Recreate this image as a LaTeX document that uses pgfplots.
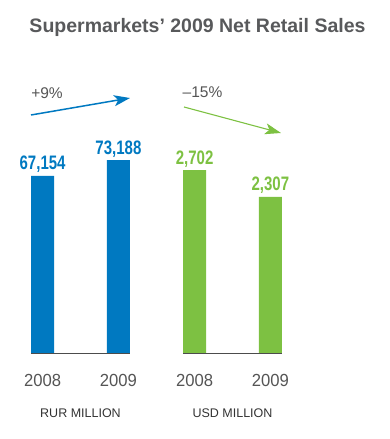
\documentclass[border=0pt]{standalone}
\usepackage{pgfplots}
\pgfplotsset{compat=1.18}
\usetikzlibrary{arrows.meta}
\usepackage{fontspec}
\setmainfont{Liberation Sans}
\newfontfamily\condbold[FakeStretch=0.77]{Liberation Sans Bold}
\newfontfamily\condreg[FakeStretch=0.95]{Liberation Sans}
\definecolor{rurblue}{HTML}{0079C1}
\definecolor{usdgreen}{HTML}{7DC142}
\definecolor{titlegray}{HTML}{58595B}
\definecolor{labgray}{HTML}{555555}
\definecolor{capgray}{HTML}{333333}
\pgfplotsset{
  salesaxis/.style={
    scale only axis, width=99pt, height=200pt,
    anchor=south west,
    xmin=-0.153, xmax=1.153, ymin=0,
    axis x line*=bottom, axis y line=none,
    x axis line style={draw=black!70, line width=0.8pt, -},
    xtick={0,1}, xticklabels={2008,2009},
    major tick length=0pt,
    xticklabel style={anchor=base, yshift=-33pt, font=\fontsize{17.5}{20}\condreg, text=labgray},
    ybar, bar width=23pt,
    clip=false,
    scaled y ticks=false,
    nodes near coords,
    /pgf/number format/.cd, fixed, precision=0, 1000 sep={,}, assume math mode=true,
    /pgfplots/.cd,
    every node near coord/.append style={anchor=base, yshift=6pt, font=\fontsize{19.5}{22}\condbold},
    xlabel style={at={(axis description cs:0.5,0)}, anchor=base, yshift=-64pt, font=\fontsize{12.5}{14}\selectfont, text=capgray},
  }
}
\begin{document}
\begin{tikzpicture}
\path[use as bounding box] (0,0) rectangle (389pt,439pt);
\begin{axis}[salesaxis, at={(31pt,86pt)}, ymax=75860, xlabel={RUR MILLION},
  every node near coord/.append style={text=rurblue}]
\addplot[fill=rurblue, draw=none] coordinates {(0,67154) (1,73188)};
\end{axis}
\begin{axis}[salesaxis, at={(183pt,86pt)}, ymax=2956, xlabel={USD MILLION},
  every node near coord/.append style={text=usdgreen}]
\addplot[fill=usdgreen, draw=none] coordinates {(0,2702) (1,2307)};
\end{axis}
\node[anchor=base, font=\fontsize{19.5}{22}\bfseries, text=titlegray] at (197.5pt,406pt) {Supermarkets’ 2009 Net Retail Sales};
\node[anchor=base, font=\fontsize{15.5}{18}\selectfont, text=labgray] at (47pt,340pt) {+9\%};
\node[anchor=base, font=\fontsize{15.5}{18}\selectfont, text=labgray] at (202.5pt,341pt) {–15\%};
\draw[rurblue, line width=1.5pt, -{Stealth[length=16pt,width=11pt,inset=4pt]}] (31pt,324pt) -- (130pt,341pt);
\draw[usdgreen, line width=1.1pt, -{Stealth[length=16pt,width=11pt,inset=4pt]}] (184pt,332pt) -- (281pt,306pt);
\end{tikzpicture}
\end{document}
